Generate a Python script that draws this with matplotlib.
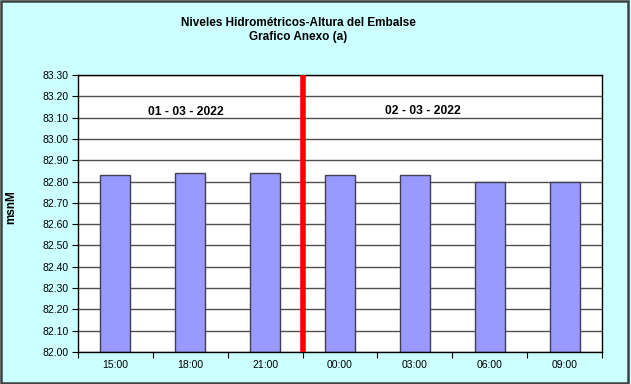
import matplotlib
matplotlib.use("Agg")
import matplotlib.pyplot as plt
import numpy as np
from matplotlib.patches import Rectangle

categories = ["15:00", "18:00", "21:00", "00:00", "03:00", "06:00", "09:00"]
values = [82.83, 82.84, 82.84, 82.83, 82.83, 82.80, 82.80]
yticks = [82.00 + 0.1 * i for i in range(14)]
title = "Niveles Hidrométricos-Altura del Embalse\nGrafico Anexo (a)"
date_labels = ["01 - 03 - 2022", "02 - 03 - 2022"]

plt.rcParams['font.family'] = ['Liberation Sans', 'DejaVu Sans']

fig = plt.figure(figsize=(6.31, 3.84), dpi=100)
fig.patch.set_facecolor('#CCFFFF')
W, H = 631, 384
ax = fig.add_axes([78 / W, 1 - 352 / H, (602 - 78) / W, (352 - 75) / H])
ax.set_facecolor('white')

x = np.arange(len(categories))
ax.set_ylim(82.0, 83.3)
ax.set_xlim(-0.5, len(categories) - 0.5)
ax.set_yticks(yticks)
ax.set_yticklabels([f"{v:.2f}" for v in yticks], fontsize=7.5)
ax.yaxis.grid(True, color='#505050', linewidth=1)
ax.set_axisbelow(True)

ax.bar(x, np.array(values) - 82.0, bottom=82.0, width=0.4, color='#9999FF',
       edgecolor='#404050', linewidth=1, zorder=2)

ax.axvline(2.5, color='#FF0000', linewidth=4, zorder=3)

ax.set_xticks(np.arange(-0.5, len(categories), 1.0))
ax.set_xticklabels([])
ax.set_xticks(x, minor=True)
ax.set_xticklabels(categories, minor=True, fontsize=7.5)
ax.tick_params(axis='x', which='minor', length=0, pad=6)
ax.tick_params(axis='x', which='major', length=4, direction='out', color='black')
ax.tick_params(axis='y', length=4, direction='out', pad=3)

for s in ax.spines.values():
    s.set_color('black')
    s.set_linewidth(1)

ax.text(0.94, 83.125, date_labels[0], fontsize=8.7, fontweight='bold', ha='center', va='center')
ax.text(4.11, 83.13, date_labels[1], fontsize=8.7, fontweight='bold', ha='center', va='center')

fig.text(298 / W, 1 - 30 / H, title, fontsize=8.5, fontweight='bold', ha='center',
         va='center', linespacing=1.3)
fig.text(11 / W, 1 - 207 / H, "msnM", fontsize=8.5, fontweight='bold', rotation=90,
         ha='center', va='center')

fig.patches.append(Rectangle((0.5 / W, 1.0 / H), 1 - 3.5 / W, 1 - 2 / H, transform=fig.transFigure,
                             fill=False, edgecolor='#404040', linewidth=1.8))

fig.savefig("out.png", dpi=100, facecolor=fig.get_facecolor())
